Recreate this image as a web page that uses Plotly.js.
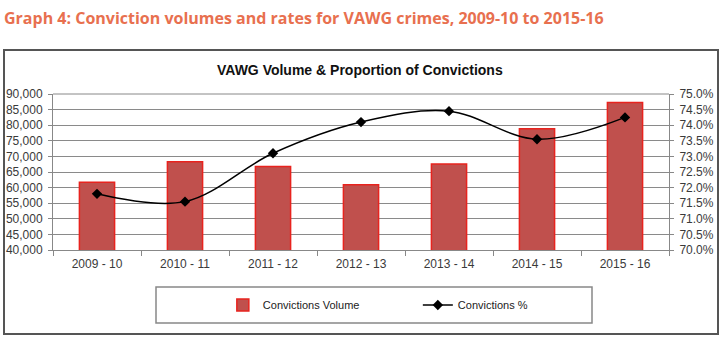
<!DOCTYPE html>
<html>
<head>
<meta charset="utf-8">
<script src="https://cdn.plot.ly/plotly-3.0.1.min.js"></script>
<style>html,body{margin:0;padding:0;background:#fff;}#chart{width:725px;height:350px;}</style>
</head>
<body>
<div id="chart"></div>
<script>
const years = ["2009 - 10","2010 - 11","2011 - 12","2012 - 13","2013 - 14","2014 - 15","2015 - 16"];
const convictionsVolume = [61700, 68300, 66800, 60900, 67600, 78900, 87300];
const convictionsPct = [71.8, 71.55, 73.1, 74.1, 74.45, 73.55, 74.25];

const L = 53, R = 669, T = 94, B = 250, W = 725, H = 350;
const px = x => (x - L) / (R - L);
const py = y => (B - y) / (B - T);

const traces = [
  {
    type: 'bar', name: 'Convictions Volume', x: years, y: convictionsVolume,
    width: 0.4,
    marker: {color: '#C0504D', line: {color: '#E8231E', width: 1.5}},
    yaxis: 'y'
  },
  {
    type: 'scatter', mode: 'lines+markers', name: 'Convictions %', x: years, y: convictionsPct,
    line: {color: '#000', width: 1.5, shape: 'spline', smoothing: 1},
    marker: {symbol: 'diamond', size: 8, color: '#000'},
    yaxis: 'y2'
  }
];

const tickFont = {family: 'Liberation Sans, Arial, sans-serif', size: 12, color: '#3a3a3a'};

const layout = {
  width: W, height: H,
  margin: {l: L, r: W - R, t: T, b: H - B, pad: 0},
  paper_bgcolor: '#fff', plot_bgcolor: '#fff',
  showlegend: true,
  legend: {
    orientation: 'h', x: px(229) - 0.01, xanchor: 'left', y: py(305), yanchor: 'middle',
    bgcolor: 'rgba(0,0,0,0)', borderwidth: 0,
    font: {family: 'Liberation Sans, Arial, sans-serif', size: 11, color: '#222'},
    entrywidth: 150, entrywidthmode: 'pixels'
  },
  xaxis: {
    type: 'category', tickfont: tickFont, showgrid: false,
    showline: true, linecolor: '#888', linewidth: 1,
    ticks: 'outside', ticklen: 5, tickcolor: '#888', tickson: 'boundaries',
    ticklabelstandoff: 3,
    fixedrange: true
  },
  yaxis: {
    range: [40000, 90000], dtick: 5000, tick0: 40000, tickformat: ',d',
    tickfont: tickFont, showgrid: true, gridcolor: '#8a8a8a', gridwidth: 1,
    showline: true, linecolor: '#888', linewidth: 1,
    ticks: 'outside', ticklen: 4, tickcolor: '#888', zeroline: false,
    ticklabelstandoff: 3
  },
  yaxis2: {
    overlaying: 'y', side: 'right',
    range: [70, 75], dtick: 0.5, tick0: 70, tickformat: '.1f', ticksuffix: '%',
    tickfont: tickFont, showgrid: false,
    showline: true, linecolor: '#888', linewidth: 1,
    ticks: 'outside', ticklen: 4, tickcolor: '#888', zeroline: false,
    ticklabelstandoff: 3
  },
  shapes: [
    {type: 'rect', xref: 'paper', yref: 'paper', x0: px(4), x1: px(718), y0: py(334), y1: py(50),
     line: {color: '#555', width: 2}, fillcolor: 'rgba(0,0,0,0)', layer: 'below'},
    {type: 'rect', xref: 'paper', yref: 'paper', x0: px(156), x1: px(592), y0: py(323), y1: py(287),
     line: {color: '#888', width: 1.5}, fillcolor: 'rgba(0,0,0,0)', layer: 'below'},
    {type: 'line', xref: 'paper', yref: 'paper', x0: 0, x1: 1, y0: 1, y1: 1,
     line: {color: '#888', width: 1}}
  ],
  annotations: [
    {text: '<b>Graph 4: Conviction volumes and rates for VAWG crimes, 2009-10 to 2015-16</b>',
     xref: 'paper', yref: 'paper', x: px(2), y: py(18), xanchor: 'left', yanchor: 'middle',
     showarrow: false, font: {family: 'Open Sans, sans-serif', size: 16, color: '#E8704F'}},
    {text: '<b>VAWG Volume & Proportion of Convictions</b>',
     xref: 'paper', yref: 'paper', x: px(360), y: py(70), xanchor: 'center', yanchor: 'middle',
     showarrow: false, font: {family: 'Liberation Sans, Arial, sans-serif', size: 14, color: '#111'}}
  ]
};

Plotly.newPlot('chart', traces, layout, {displayModeBar: false, staticPlot: true});
</script>
</body>
</html>
